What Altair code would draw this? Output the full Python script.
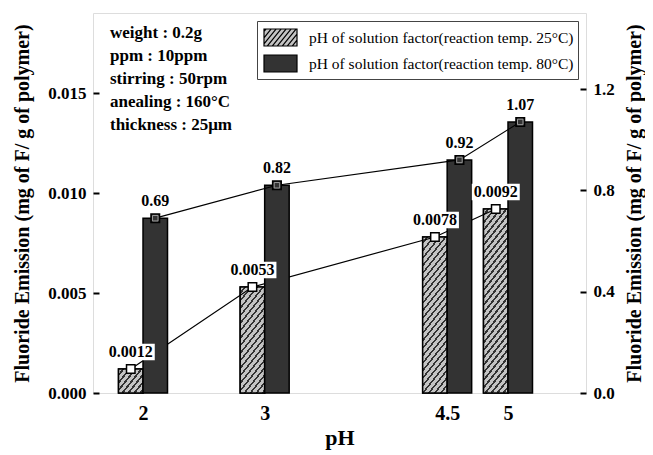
import math
import altair as alt
import pandas as pd

# ---------------- data ----------------
ph = [2, 3, 4.5, 5]
emis_25 = [0.0012, 0.0053, 0.0078, 0.0092]
emis_80 = [0.69, 0.82, 0.92, 1.07]
series = [
    "pH of solution factor(reaction temp. 25°C)",
    "pH of solution factor(reaction temp. 80°C)",
]
x_ticks = [2, 3, 4.5, 5]
y_left_ticks = [0.0, 0.005, 0.010, 0.015]
y_right_ticks = [0.0, 0.4, 0.8, 1.2]
notes = ["weight : 0.2g", "ppm : 10ppm", "stirring : 50rpm", "anealing : 160°C", "thickness : 25μm"]
y_title = "Fluoride Emission (mg of F/ g of polymer)"

d25 = pd.DataFrame({"pH": ph, "value": emis_25, "series": series[0]})
d80 = pd.DataFrame({"pH": ph, "value": emis_80, "series": series[1]})

# ---------------- layout / style ----------------
W, H = 493, 380
XDOM = [1.63, 5.6]
YL = [0, 0.019]
YR = [0, 1.5]
BW = 24.5
OFF = BW / 2
SERIF = "Liberation Serif"
HATCH_BG = "#c4c4c4"
HATCH_LN = "#333333"
DARK = "#333333"


def hatch_gradient(h, w=BW, m=1.25, sx=6.0, lw=1.6):
    """Diagonal stripes for a bar of w x h pixels, as a linear gradient."""
    cmax = m * w + h
    a = cmax / (m * m * w * w + h * h)
    period = m * sx
    thick = lw * math.sqrt(1 + m * m)
    stops = []
    k = 0
    while k * period < cmax:
        c0 = k * period
        c1 = c0 + period - thick
        c2 = c0 + period
        t0, t1, t2 = (min(1.0, c / cmax) for c in (c0, c1, c2))
        stops += [
            alt.GradientStop(color=HATCH_BG, offset=t0),
            alt.GradientStop(color=HATCH_BG, offset=t1),
            alt.GradientStop(color=HATCH_LN, offset=t1),
            alt.GradientStop(color=HATCH_LN, offset=t2),
        ]
        k += 1
    return alt.LinearGradient(gradient="linear", stops=stops, x1=0, y1=0, x2=a * m * w, y2=a * h)


# legend swatch paths (units: sqrt(symbolSize)/2 px)
SYM = 529
s = math.sqrt(SYM) / 2
A, B = 16.5 / s, 8.5 / s
rect_path = f"M{-A:.3f},{-B:.3f}L{A:.3f},{-B:.3f}L{A:.3f},{B:.3f}L{-A:.3f},{B:.3f}Z"
hp = [rect_path]
mm, step = 1.25, 5.0 / s
c = -(mm * A + B) + step / 2
while c < mm * A + B:
    lo = max(-A, (c - B) / mm)
    hi = min(A, (c + B) / mm)
    if hi - lo > 0.02:
        hp.append(f"M{lo:.3f},{c - mm * lo:.3f}L{hi:.3f},{c - mm * hi:.3f}")
    c += mm * step
hatch_path = "".join(hp)
sym_expr = f"datum.value === '{series[0]}' ? '{hatch_path}' : '{rect_path}'"

legend = alt.Legend(
    title=None, orient="top-right", offset=8, fillColor="white", strokeColor="#444",
    padding=4, rowPadding=2, labelFont=SERIF, labelFontSize=15.5, labelFontWeight="normal",
    labelColor="black", labelLimit=500, labelOffset=16, symbolSize=SYM, symbolOffset=7,
    symbolStrokeColor="black", symbolStrokeWidth=1.2, symbolType={"expr": sym_expr},
    symbolOpacity=1,
)
FILL = alt.Fill("series:N", scale=alt.Scale(domain=series, range=[HATCH_BG, DARK]), legend=legend)

xscale = alt.Scale(domain=XDOM, nice=False, zero=False)
x_axis = alt.Axis(
    orient="bottom",
    values=x_ticks, title="pH", ticks=False, domain=False, grid=False,
    labelExpr="toString(datum.value)",
    labelFont=SERIF, labelFontSize=20, labelFontWeight="bold", labelColor="black",
    labelPadding=10, labelFlush=False, labelOverlap=False,
    titleFont=SERIF, titleFontSize=22, titleFontWeight="bold", titleColor="black", titlePadding=4,
)
X = alt.X("pH:Q", scale=xscale, axis=x_axis)


def YL_enc(axis=None):
    return alt.Y("value:Q", scale=alt.Scale(domain=YL, nice=False, zero=True), axis=axis)


def YR_enc(axis=None):
    return alt.Y("value:Q", scale=alt.Scale(domain=YR, nice=False, zero=True), axis=axis)


common_label = dict(labelFont=SERIF, labelFontSize=17, labelFontWeight="bold", labelColor="black",
                    labelOverlap=False, labelFlush=False)
common_title = dict(titleFont=SERIF, titleFontSize=20, titleFontWeight="bold", titleColor="black")

axL = alt.Axis(values=y_left_ticks, format=".3f", title=y_title, orient="left", ticks=False,
               domain=False, grid=False, labelPadding=7, titlePadding=15, **common_label, **common_title)
axL_t = alt.Axis(values=y_left_ticks, orient="left", labels=False, domain=False, grid=False,
                 ticks=True, tickSize=6, tickWidth=2, tickColor="black", offset=-6, title=None)
axR = alt.Axis(values=y_right_ticks, format=".1f", title=y_title, orient="right", ticks=False,
               domain=False, grid=False, labelPadding=7, titlePadding=10, titleAngle=270,
               titleBaseline="top", **common_label, **common_title)
axR_t = alt.Axis(values=y_right_ticks, orient="right", labels=False, domain=False, grid=False,
                 ticks=True, tickSize=6, tickWidth=2, tickColor="black", offset=-6, title=None)

# ---------------- left-scale group (25 °C) ----------------
base25 = alt.Chart(d25).mark_bar(width=BW, xOffset=-OFF, stroke="black", strokeWidth=1.5).encode(
    x=X, y=YL_enc(axL), fill=FILL)
hatches = []
for p, v in zip(ph, emis_25):
    hpx = v / YL[1] * H
    hatches.append(
        alt.Chart(d25).transform_filter(alt.datum.pH == p)
        .mark_bar(width=BW, xOffset=-OFF, fill=hatch_gradient(hpx), stroke="black", strokeWidth=1.5)
        .encode(x=X, y=YL_enc())
    )
line25 = alt.Chart(d25).mark_line(color="black", strokeWidth=1.2, xOffset=-OFF).encode(
    x=X, y=YL_enc(axL_t))
L1 = alt.layer(base25, *hatches, line25).resolve_axis(y="independent")

# ---------------- right-scale group (80 °C) ----------------
bars80 = alt.Chart(d80).mark_bar(width=BW, xOffset=OFF, stroke="black", strokeWidth=1.5).encode(
    x=X, y=YR_enc(axR), fill=FILL)
line80 = alt.Chart(d80).mark_line(color="black", strokeWidth=1.2, xOffset=OFF).encode(
    x=X, y=YR_enc(axR_t))
pts80 = alt.Chart(d80).mark_point(shape="square", size=72, filled=True, fill=DARK, stroke="black",
                                  strokeWidth=1.6, opacity=1, xOffset=OFF).encode(x=X, y=YR_enc())
pts80b = alt.Chart(d80).mark_point(shape="square", size=30, filled=False, stroke="#9a9a9a",
                                   strokeWidth=1, opacity=1, xOffset=OFF).encode(x=X, y=YR_enc())
lab80 = alt.Chart(d80).mark_text(font=SERIF, fontSize=16, fontWeight="bold", color="black",
                                 xOffset=OFF, yOffset=-17).encode(
    x=X, y=YR_enc(), text=alt.Text("value:Q", format=".2f"))
R = alt.layer(bars80, line80, pts80, pts80b, lab80).resolve_axis(y="independent")

# ---------------- left-scale overlay (labels and markers on top) ----------------
box_path = "M-1,-0.34L1,-0.34L1,0.34L-1,0.34Z"
boxes25 = alt.Chart(d25).mark_point(shape=box_path, size=2304, filled=True, fill="white",
                                    strokeWidth=0, opacity=1, xOffset=-OFF, yOffset=-17).encode(
    x=X, y=YL_enc())
pts25 = alt.Chart(d25).mark_point(shape="square", size=72, filled=True, fill="white", stroke="black",
                                  strokeWidth=1.5, opacity=1, xOffset=-OFF).encode(x=X, y=YL_enc())
lab25 = alt.Chart(d25).mark_text(font=SERIF, fontSize=16, fontWeight="bold", color="black",
                                 xOffset=-OFF, yOffset=-17).encode(
    x=X, y=YL_enc(), text=alt.Text("value:Q", format=".4f"))
note = alt.Chart(pd.DataFrame({"k": [0]})).mark_text(
    text=notes, font=SERIF, fontSize=17, fontWeight="bold", color="black", align="left",
    baseline="middle", lineHeight=23).encode(x=alt.value(17), y=alt.value(20))
L2 = alt.layer(boxes25, pts25, lab25, note)

chart = (
    alt.layer(L1, R, L2)
    .resolve_scale(y="independent")
    .properties(width=W, height=H, padding={"left": 85, "top": 5, "right": 59, "bottom": 58},
                autosize=alt.AutoSizeParams(type="none"), background="white")
    .configure_view(stroke="black", strokeWidth=2.5)
    .configure(font=SERIF)
)

chart.save("out.html", embed_options={"renderer": "svg", "actions": False})
